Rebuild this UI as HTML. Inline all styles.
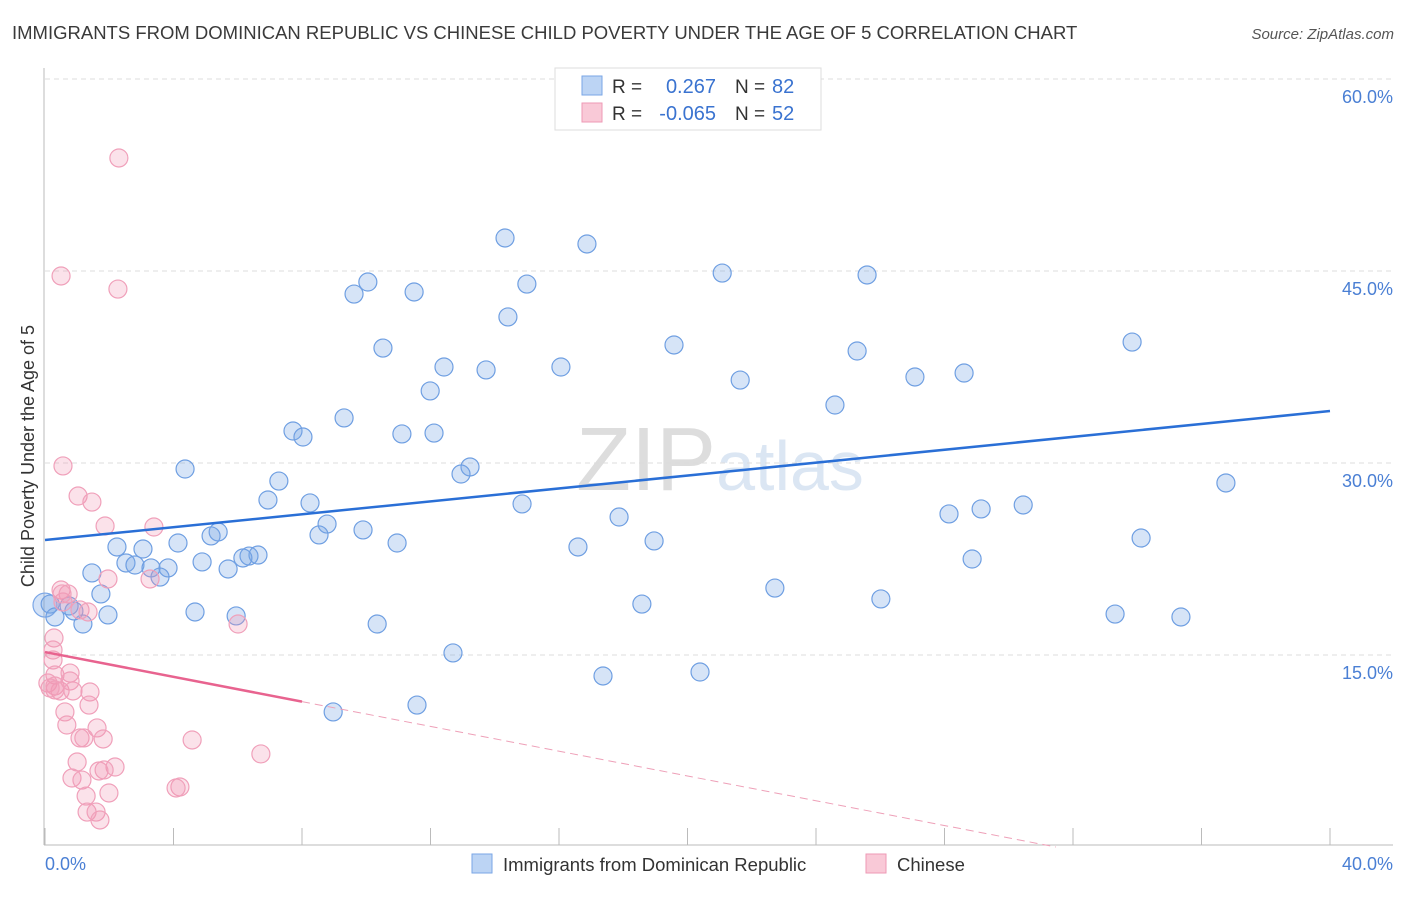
<!DOCTYPE html>
<html><head><meta charset="utf-8"><style>
body{margin:0;background:#fff;font-family:"Liberation Sans",sans-serif;}
svg text{font-family:"Liberation Sans",sans-serif;}
</style></head><body>
<svg id="chart" width="1406" height="892" xmlns="http://www.w3.org/2000/svg">
<text x="12" y="39" font-size="18.5" fill="#3a3a3a">IMMIGRANTS FROM DOMINICAN REPUBLIC VS CHINESE CHILD POVERTY UNDER THE AGE OF 5 CORRELATION CHART</text>
<text x="1394" y="39" font-size="15" fill="#555" font-style="italic" text-anchor="end">Source: ZipAtlas.com</text>
<text x="720" y="490" font-size="90" fill="#e6e9ee" text-anchor="middle" font-family="Liberation Serif"><tspan fill="#dddddd">ZIP</tspan><tspan fill="#dbe6f3" font-family="Liberation Sans" font-size="70">atlas</tspan></text>
<g id="grid"></g>
<g id="axes"></g>
<g id="pts"></g>
<g id="lines"></g>
<text transform="translate(34,456) rotate(-90)" font-size="18" fill="#333" text-anchor="middle">Child Poverty Under the Age of 5</text>
<text x="45" y="870" font-size="18" fill="#4a7fd4">0.0%</text>
<text x="1393" y="870" font-size="18" fill="#4a7fd4" text-anchor="end">40.0%</text>
<g>
<rect x="555" y="68" width="266" height="62" fill="#fff" stroke="#ddd"/>
<rect x="582" y="76" width="20" height="19" fill="#bcd4f4" stroke="#7aa6e6"/>
<rect x="582" y="103" width="20" height="19" fill="#f9c9d7" stroke="#ee99b5"/>
<text x="612" y="93" font-size="19" fill="#333">R =</text>
<text x="716" y="93" font-size="20" fill="#3a73d0" text-anchor="end">0.267</text>
<text x="735" y="93" font-size="19" fill="#333">N =</text>
<text x="772" y="93" font-size="20" fill="#3a73d0">82</text>
<text x="612" y="120" font-size="19" fill="#333">R =</text>
<text x="716" y="120" font-size="20" fill="#3a73d0" text-anchor="end">-0.065</text>
<text x="735" y="120" font-size="19" fill="#333">N =</text>
<text x="772" y="120" font-size="20" fill="#3a73d0">52</text>
</g>
<g>
<rect x="472" y="854" width="20" height="19" fill="#bcd4f4" stroke="#7aa6e6"/>
<text x="503" y="871" font-size="18.5" fill="#333">Immigrants from Dominican Republic</text>
<rect x="866" y="854" width="20" height="19" fill="#f9c9d7" stroke="#ee99b5"/>
<text x="897" y="871" font-size="18.5" fill="#333">Chinese</text>
</g>
</svg>
<script>
const yTicks=[15,30,45,60];
const yTickLabels=["15.0%","30.0%","45.0%","60.0%"];
const xTicks=[0,4,8,12,16,20,24,28,32,36,40];
const blueX=[14.32,16.87,21.08,25.59,10.05,9.62,11.49,15.0,14.41,10.52,19.58,25.28,33.84,12.42,13.73,16.06,21.64,27.08,28.61,11.99,24.59,9.31,7.72,8.03,11.11,12.11,4.36,13.23,12.95,7.28,6.94,8.25,14.85,36.76,28.14,29.14,30.45,17.87,8.78,9.90,5.17,5.39,8.53,4.14,2.24,3.05,10.96,18.96,16.59,34.12,6.35,6.63,6.16,2.52,2.80,3.30,3.83,3.58,4.89,5.70,1.46,28.86,1.74,22.72,26.02,18.58,4.67,5.95,1.96,1.18,10.34,33.31,35.36,0.16,0.31,0.75,0.90,12.70,17.37,20.39,8.97,11.58];
const blueY=[47.58,47.11,44.84,44.69,44.14,43.2,43.36,43.98,41.41,38.98,39.22,38.75,39.45,37.5,37.27,37.5,36.48,36.72,37.03,35.63,34.53,33.52,32.5,32.03,32.27,32.34,29.53,29.69,29.14,28.59,27.11,26.88,26.8,28.44,26.02,26.41,26.72,25.78,25.23,24.77,24.3,24.61,24.38,23.75,23.44,23.28,23.75,23.91,23.44,24.14,22.73,22.81,22.58,22.19,22.03,21.8,21.8,21.09,22.27,21.72,21.41,22.5,19.77,20.23,19.38,18.98,18.36,18.05,18.13,17.42,17.42,18.2,17.97,18.98,17.97,18.83,18.44,15.16,13.36,13.67,10.55,11.09];
const pinkX=[2.30,0.50,2.27,0.56,1.03,1.46,1.87,3.39,1.96,3.27,0.50,0.72,0.56,1.09,1.34,6.01,0.28,0.25,0.25,0.31,0.78,0.09,0.31,0.47,0.78,0.87,1.40,1.37,0.62,0.68,1.62,1.09,1.21,1.81,4.58,6.72,1.00,2.18,1.84,1.68,0.84,1.15,1.99,1.28,4.20,4.08,1.31,1.59,1.71,0.31,0.16,0.53];
const pinkY=[53.83,44.61,43.59,29.77,27.42,26.95,25.08,25.0,20.94,20.94,20.08,19.77,19.14,18.52,18.36,17.42,16.33,15.39,14.61,13.44,13.59,12.81,12.58,12.19,12.97,12.19,12.11,11.09,10.55,9.53,9.30,8.52,8.52,8.44,8.36,7.27,6.64,6.25,6.02,5.94,5.39,5.23,4.22,3.98,4.69,4.61,2.73,2.73,2.11,12.27,12.42,19.77];
const blueTrend=[23.98,34.06];
const pinkTrend=[15.23,-0.484];
const pinkSolidEnd=8;
const NS="http://www.w3.org/2000/svg";
const sx=v=>45+v*(1285/40);
const sy=v=>847-v*(192/15);
function mk(tag,attrs,parent){const e=document.createElementNS(NS,tag);for(const k in attrs)e.setAttribute(k,attrs[k]);parent.appendChild(e);return e;}
const grid=document.getElementById('grid'),axes=document.getElementById('axes'),pts=document.getElementById('pts'),lines=document.getElementById('lines');
yTicks.forEach((t,i)=>{
 const l=mk('line',{x1:45,x2:1393,y1:sy(t),y2:sy(t),stroke:'#dcdcdc','stroke-dasharray':'5,4'},grid);
 
 
 const tx=mk('text',{x:1393,y:sy(t)+24,'font-size':18,fill:'#4a7fd4','text-anchor':'end'},grid);
 tx.textContent=yTickLabels[i];
 
 
});
const ya=mk('line',{x1:44,x2:44,y1:68,y2:845,stroke:'#bbb'},axes);


const xa=mk('line',{x1:44,x2:1393,y1:845,y2:845,stroke:'#bbb'},axes);


xTicks.forEach(t=>{
 const tk=mk('line',{x1:sx(t),x2:sx(t),y1:828,y2:845,stroke:'#bbb'},axes);
 
 
});
const big=mk('circle',{cx:sx(0),cy:sy(18.9),r:12,fill:'rgba(110,160,230,0.3)',stroke:'#7aa6e6','stroke-width':1.2},pts);


blueX.forEach((x,i)=>{
 const c=mk('circle',{cx:sx(x),cy:sy(blueY[i]),r:9,fill:'rgba(120,165,230,0.3)',stroke:'#6f9fe2','stroke-width':1.2},pts);
 
 
});
pinkX.forEach((x,i)=>{
 const c=mk('circle',{cx:sx(x),cy:sy(pinkY[i]),r:9,fill:'rgba(242,150,180,0.28)',stroke:'#f0a0ba','stroke-width':1.2},pts);
 
 
});
const bl=mk('line',{x1:sx(0),y1:sy(blueTrend[0]),x2:sx(40),y2:sy(blueTrend[1]),stroke:'#2a6fd6','stroke-width':2.5},lines);


const pf=x=>pinkTrend[0]+pinkTrend[1]*x;
const pl=mk('line',{x1:sx(0),y1:sy(pf(0)),x2:sx(pinkSolidEnd),y2:sy(pf(pinkSolidEnd)),stroke:'#e8638f','stroke-width':2.5},lines);


const xEnd=-pinkTrend[0]/pinkTrend[1];
const pd=mk('line',{x1:sx(pinkSolidEnd),y1:sy(pf(pinkSolidEnd)),x2:sx(xEnd),y2:sy(0),stroke:'#eea0b8','stroke-width':1,'stroke-dasharray':'8,5'},lines);


</script>
</body></html>
